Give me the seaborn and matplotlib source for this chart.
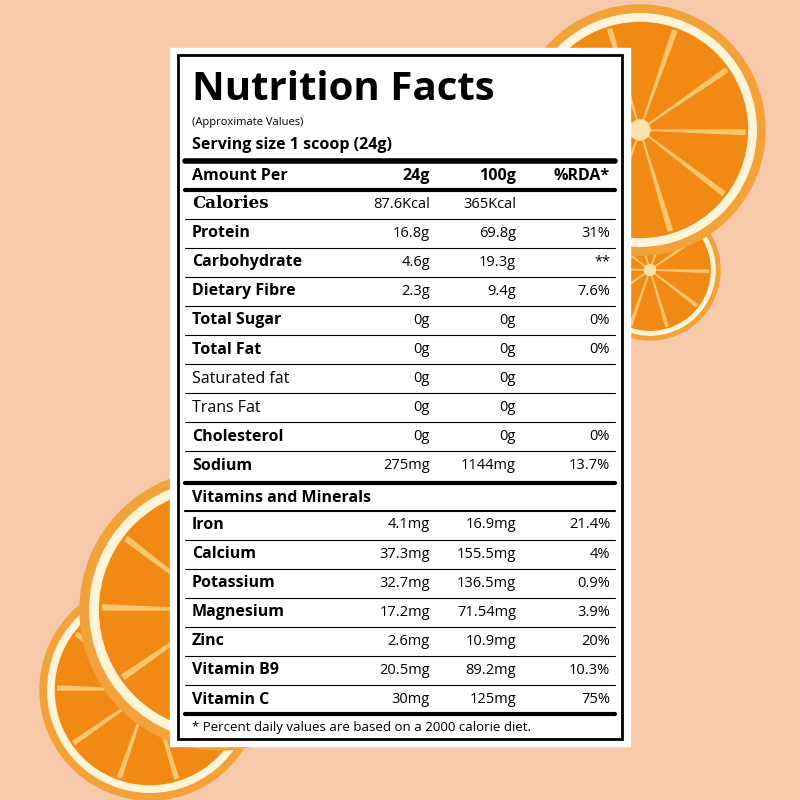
import numpy as np
import matplotlib.pyplot as plt
import seaborn as sns
from matplotlib.patches import Circle, Wedge, Rectangle

sns.set_theme(style="white")
plt.rcParams['font.family'] = ['Open Sans', 'DejaVu Sans']

# --- DATA ---
nutrients = ['Calories', 'Protein', 'Carbohydrate', 'Dietary Fibre', 'Total Sugar', 'Total Fat',
             'Saturated fat', 'Trans Fat', 'Cholesterol', 'Sodium']
per_24g = ['87.6Kcal', '16.8g', '4.6g', '2.3g', '0g', '0g', '0g', '0g', '0g', '275mg']
per_100g = ['365Kcal', '69.8g', '19.3g', '9.4g', '0g', '0g', '0g', '0g', '0g', '1144mg']
rda = ['', '31%', '**', '7.6%', '0%', '0%', '', '', '0%', '13.7%']
bold_rows = [True, True, True, True, True, True, False, False, True, True]

minerals = ['Iron', 'Calcium', 'Potassium', 'Magnesium', 'Zinc', 'Vitamin B9', 'Vitamin C']
min_24g = ['4.1mg', '37.3mg', '32.7mg', '17.2mg', '2.6mg', '20.5mg', '30mg']
min_100g = ['16.9mg', '155.5mg', '136.5mg', '71.54mg', '10.9mg', '89.2mg', '125mg']
min_rda = ['21.4%', '4%', '0.9%', '3.9%', '20%', '10.3%', '75%']

fig = plt.figure(figsize=(8, 8), dpi=100)
fig.patch.set_facecolor('#f7c9ab')
ax = fig.add_axes([0, 0, 1, 1])
ax.set_xlim(0, 800)
ax.set_ylim(800, 0)
ax.axis('off')
ax.set_facecolor('#f7c9ab')

# orange slices (decoration)
def orange(cx, cy, r, z=1):
    ax.add_patch(Circle((cx, cy), r, color='#f3a23a', zorder=z))
    ax.add_patch(Circle((cx, cy), r * 0.93, color='#fff4d8', zorder=z))
    ax.add_patch(Circle((cx, cy), r * 0.86, color='#f08a14', zorder=z))
    for a in np.arange(0, 360, 36):
        ax.add_patch(Wedge((cx, cy), r * 0.84, a, a + 2.5, color='#fbc56a', zorder=z))
    ax.add_patch(Circle((cx, cy), r * 0.08, color='#fbe2a8', zorder=z))

orange(650, 270, 70)
orange(640, 130, 125)
orange(150, 690, 110)
orange(220, 610, 140)

# panel
ax.add_patch(Rectangle((170, 48), 460, 698, color='white', zorder=5))
ax.add_patch(Rectangle((178, 55), 444, 684, fill=False, ec='black', lw=2, zorder=6))

T = dict(zorder=7, color='black', va='center')
XL, X1, X2, X3 = 192, 430, 516, 610
FL, FV = 11.5, 10.5

ax.text(XL, 90, 'Nutrition Facts', fontsize=29, weight='bold', **T)
ax.text(XL, 123, '(Approximate Values)', fontsize=8, **T)
ax.text(XL, 145, 'Serving size 1 scoop (24g)', fontsize=11.5, weight='bold', **T)

def hline(y, lw):
    ax.plot([185, 615], [y, y], color='black', lw=lw, zorder=7)

hline(161, 4)
ax.text(XL, 176, 'Amount Per', fontsize=FL, weight='bold', **T)
ax.text(X1, 176, '24g', fontsize=FL, weight='bold', ha='right', **T)
ax.text(X2, 176, '100g', fontsize=FL, weight='bold', ha='right', **T)
ax.text(X3, 176, '%RDA*', fontsize=FL, weight='bold', ha='right', **T)
hline(190, 3)

y0, dy = 204, 29.1
for i, name in enumerate(nutrients):
    y = y0 + i * dy
    if name == 'Calories':
        ax.text(XL, y, name, fontsize=12, weight='bold', family='DejaVu Serif', **T)
    else:
        ax.text(XL, y, name, fontsize=FL, weight='bold' if bold_rows[i] else 'normal', **T)
    ax.text(X1, y, per_24g[i], fontsize=FV, ha='right', **T)
    ax.text(X2, y, per_100g[i], fontsize=FV, ha='right', **T)
    ax.text(X3, y, rda[i], fontsize=FV, ha='right', **T)
    if i < len(nutrients) - 1:
        hline(y + dy / 2, 0.8)
hline(483, 3)

ax.text(XL, 498, 'Vitamins and Minerals', fontsize=FL, weight='bold', **T)
hline(511, 1.5)
y0 = 525
for i, name in enumerate(minerals):
    y = y0 + i * dy
    ax.text(XL, y, name, fontsize=FL, weight='bold', **T)
    ax.text(X1, y, min_24g[i], fontsize=FV, ha='right', **T)
    ax.text(X2, y, min_100g[i], fontsize=FV, ha='right', **T)
    ax.text(X3, y, min_rda[i], fontsize=FV, ha='right', **T)
    if i < len(minerals) - 1:
        hline(y + dy / 2, 0.8)
hline(714, 3)
ax.text(XL, 727, '* Percent daily values are based on a 2000 calorie diet.', fontsize=9.5, **T)

fig.savefig('out.png', dpi=100, facecolor=fig.get_facecolor())
